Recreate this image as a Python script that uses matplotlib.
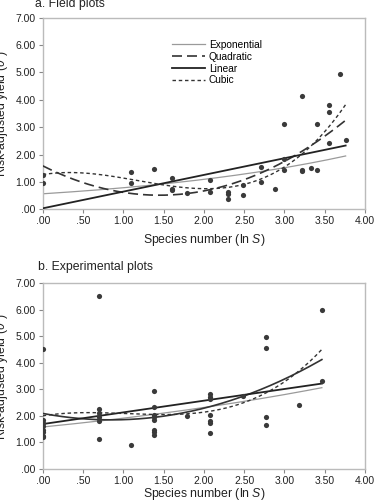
import numpy as np
import matplotlib
matplotlib.use("Agg")
import matplotlib.pyplot as plt

plt.rcParams['font.family'] = ['Liberation Sans', 'DejaVu Sans']
plt.rcParams['mathtext.fontset'] = 'custom'
plt.rcParams['mathtext.it'] = 'Liberation Sans:italic'
plt.rcParams['mathtext.rm'] = 'Liberation Sans'

# ---- Panel a: field plots ----
a_x = [0, 0, 1.0986, 1.0986, 1.386, 1.609, 1.609, 1.609, 1.792, 2.079, 2.079,
       2.303, 2.303, 2.303, 2.485, 2.485, 2.708, 2.708, 2.890, 2.996, 2.996, 2.996,
       3.219, 3.219, 3.219, 3.332, 3.401, 3.401, 3.555, 3.555, 3.555, 3.689, 3.761]
a_y = [1.26, 0.98, 1.37, 0.95, 1.46, 1.15, 0.75, 0.70, 0.61, 1.07, 0.62,
       0.64, 0.58, 0.37, 0.89, 0.51, 1.56, 0.99, 0.73, 3.10, 1.85, 1.44,
       4.12, 1.44, 1.40, 1.50, 3.10, 1.43, 3.81, 3.54, 2.41, 4.95, 2.53]
a_xmax = 3.761
a_exp = [0.57, 0.327]               # a*exp(b*x)
a_lin = [0.04, 0.609]               # c0 + c1*x
a_quad = [1.59, -1.48, 0.511]       # c0 + c1 x + c2 x^2
a_cubic = [1.27, 0.485, -0.851, 0.240]

# ---- Panel b: experimental plots ----
b_x = [0, 0, 0, 0, 0, 0, 0, 0,
       0.693, 0.693, 0.693, 0.693, 0.693, 0.693,
       1.0986,
       1.386, 1.386, 1.386, 1.386, 1.386, 1.386, 1.386, 1.386,
       1.792,
       2.079, 2.079, 2.079, 2.079, 2.079, 2.079, 2.079,
       2.485,
       2.773, 2.773, 2.773, 2.773,
       3.178,
       3.466, 3.466]
b_y = [4.50, 1.84, 1.74, 1.62, 1.47, 1.39, 1.24, 1.19,
       6.50, 2.24, 2.09, 1.94, 1.82, 1.14,
       0.91,
       2.94, 2.34, 2.03, 1.94, 1.84, 1.47, 1.38, 1.28,
       1.99,
       2.81, 2.72, 2.63, 2.04, 1.82, 1.72, 1.35,
       2.74,
       4.97, 4.56, 1.95, 1.65,
       2.42,
       6.00, 3.32]
b_xmax = 3.466
b_exp = [1.58, 0.1907]
b_lin = [1.69, 0.44]
b_quad = [2.09, -0.567, 0.3325]
b_cubic = [2.0, 0.485, -0.585, 0.1885]

xticks = [0, 0.5, 1.0, 1.5, 2.0, 2.5, 3.0, 3.5, 4.0]
xticklabels = ['.00', '.50', '1.00', '1.50', '2.00', '2.50', '3.00', '3.50', '4.00']
yticks = [0, 1, 2, 3, 4, 5, 6, 7]
yticklabels = ['.00', '1.00', '2.00', '3.00', '4.00', '5.00', '6.00', '7.00']

fig = plt.figure(figsize=(3.75, 5.01), dpi=100)
ax_a = fig.add_axes([0.114, 0.582, 0.859, 0.383])
ax_b = fig.add_axes([0.114, 0.064, 0.859, 0.371])

LBL = 8.8


def poly(c, x):
    return sum(ci * x ** i for i, ci in enumerate(c))


def draw(ax, xs, ys, xmax, ce, cl, cq, cc, legend=False, xpad=3):
    xx = np.linspace(0, xmax, 200)
    ax.plot(xx, ce[0] * np.exp(ce[1] * xx), color='#9a9a9a', lw=0.9, label='Exponential', zorder=2)
    if legend:
        ax.plot(xx, poly(cq, xx), color='#333333', lw=1.2, ls=(0, (6, 3)), label='Quadratic', zorder=3)
    else:
        ax.plot(xx, poly(cq, xx), color='#333333', lw=1.2, label='Quadratic', zorder=3)
    ax.plot(xx, poly(cl, xx), color='#222222', lw=1.3, label='Linear', zorder=3)
    ax.plot(xx, poly(cc, xx), color='#333333', lw=1.0, ls=(0, (2.5, 2)), label='Cubic', zorder=3)
    ax.scatter(xs, ys, s=14, color='#3a3a3a', zorder=4, linewidths=0)
    ax.set_xlim(0, 4.0)
    ax.set_ylim(0, 7.0)
    ax.set_xticks(xticks)
    ax.set_xticklabels(xticklabels)
    ax.set_yticks(yticks)
    ax.set_yticklabels(yticklabels)
    ax.tick_params(labelsize=7.5, length=3, width=0.8, color='#888888', labelcolor='#222222', pad=2)
    for s in ax.spines.values():
        s.set_color('#bbbbbb')
        s.set_linewidth(1.0)
    ax.set_xlabel('Species number (ln $\\mathit{S}$)', fontsize=LBL,
                  color='#222222', labelpad=xpad)
    ax.set_ylabel('Risk-adjusted yield ($\\mathit{\\theta}$*)', fontsize=LBL,
                  color='#222222', labelpad=4)


draw(ax_a, a_x, a_y, a_xmax, a_exp, a_lin, a_quad, a_cubic, legend=True, xpad=4)
draw(ax_b, b_x, b_y, b_xmax, b_exp, b_lin, b_quad, b_cubic, xpad=0)

ax_a.legend(loc='upper left', bbox_to_anchor=(0.386, 0.91), frameon=False, fontsize=7.3,
            handlelength=3.2, handletextpad=0.4, labelspacing=0.18, borderpad=0)

fig.text(0.094, 0.992, 'a. Field plots', fontsize=LBL, color='#222222',
         va='center', ha='left')
fig.text(0.101, 0.468, 'b. Experimental plots', fontsize=LBL, color='#222222',
         va='center', ha='left')

fig.savefig('out.png', dpi=100)
